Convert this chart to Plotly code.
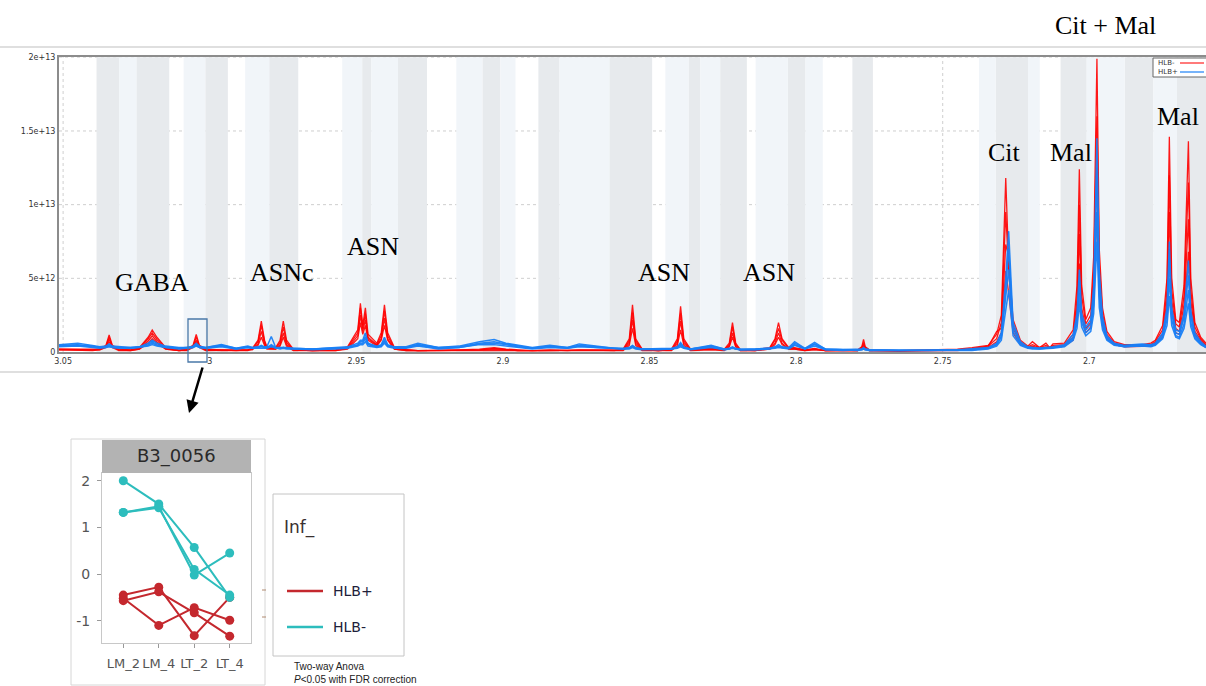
import plotly.graph_objects as go

W, H = 1206, 686
def px(x): return x / W
def py(y): return 1 - y / H

# ---------------- spectrum data (chemical shift, ppm) ----------------
ppm = [
    3.0514, 3.0450, 3.0400, 3.0375, 3.0354, 3.0343, 3.0332, 3.0310, 3.0270, 3.0240,
    3.0210, 3.0196, 3.0180, 3.0150, 3.0105, 3.0078, 3.0057, 3.0046, 3.0035, 3.0014,
    2.9960, 2.9910, 2.9870, 2.9855, 2.9835, 2.9824, 2.9813, 2.9805, 2.9790, 2.9775,
    2.9760, 2.9749, 2.9738, 2.9715, 2.9650, 2.9570, 2.9530, 2.9495, 2.9486, 2.9478,
    2.9469, 2.9460, 2.9430, 2.9415, 2.9404, 2.9393, 2.9370, 2.9330, 2.9290, 2.9220,
    2.9150, 2.9080, 2.9030, 2.8990, 2.8950, 2.8900, 2.8840, 2.8780, 2.8740, 2.8680,
    2.8620, 2.8590, 2.8569, 2.8558, 2.8547, 2.8525, 2.8470, 2.8425, 2.8405, 2.8394,
    2.8383, 2.8360, 2.8290, 2.8245, 2.8228, 2.8217, 2.8206, 2.8190, 2.8140, 2.8090,
    2.8072, 2.8060, 2.8048, 2.8025, 2.8005, 2.7970, 2.7937, 2.7900, 2.7840, 2.7790,
    2.7776, 2.7770, 2.7764, 2.7750, 2.7650, 2.7550, 2.7450, 2.7400, 2.7345, 2.7316,
    2.7300, 2.7285, 2.7275, 2.7260, 2.7235, 2.7210, 2.7194, 2.7170, 2.7148, 2.7135,
    2.7124, 2.7085, 2.7055, 2.7042, 2.7034, 2.7026, 2.7012, 2.6995, 2.6985, 2.6974,
    2.6966, 2.6955, 2.6940, 2.6915, 2.6880, 2.6820, 2.6790, 2.6775, 2.6750, 2.6735,
    2.6727, 2.6719, 2.6705, 2.6693, 2.6677, 2.6662, 2.6654, 2.6640, 2.6620, 2.6602,
]

# intensities in units of 1e12, HLB- (red) samples
hlb_minus_1 = [
    .2, .2, .15, .2, .45, 1.15, .45, .2, .15, .3,
    1.0, 1.5, 1.0, .3, .15, .2, .45, 1.2, .45, .2,
    .15, .1, .15, .25, .8, 2.1, .8, .35, .3, .3,
    .8, 2.1, .8, .2, .1, .15, .35, 1.5, 3.3, 1.8,
    3.0, 1.2, .6, 1.3, 3.2, 1.3, .3, .15, .1, .1,
    .15, .2, .3, .2, .15, .1, .15, .1, .15, .1,
    .1, .2, .9, 3.2, .9, .2, .1, .2, .9, 3.1,
    .9, .2, .25, .2, .6, 2.0, .6, .15, .15, .3,
    .9, 2.0, .9, .3, .3, .15, .25, .1, .1, .15,
    .35, .85, .35, .15, .1, .15, .2, .3, .45, 1.2,
    2.5, 11.8, 6.0, 2.2, .8, .4, .7, .3, .6, .3,
    .55, .6, 1.5, 4.5, 12.4, 4.5, 2.2, 3.0, 6.5, 19.9,
    7.0, 3.0, 1.4, .7, .5, .5, .6, .8, 1.8, 5.0,
    14.6, 5.0, 2.2, 2.0, 4.5, 14.3, 5.0, 2.0, 1.0, .6,
]
hlb_minus_2 = [
    .2, .15, .15, .2, .4, 1.0, .4, .15, .15, .25,
    .9, 1.3, .85, .25, .1, .15, .4, 1.0, .4, .15,
    .15, .1, .15, .2, .7, 1.8, .7, .3, .25, .25,
    .65, 1.7, .65, .15, .1, .15, .3, 1.3, 3.0, 1.6,
    2.6, 1.0, .5, 1.1, 2.8, 1.1, .25, .15, .1, .1,
    .15, .15, .25, .15, .1, .1, .1, .1, .15, .1,
    .1, .15, .75, 2.7, .75, .15, .1, .15, .75, 2.6,
    .75, .15, .2, .15, .5, 1.7, .5, .15, .1, .25,
    .8, 1.6, .8, .25, .25, .15, .2, .1, .1, .1,
    .3, .6, .3, .1, .1, .1, .15, .25, .4, .9,
    2.0, 9.5, 5.5, 1.8, .7, .35, .5, .3, .45, .3,
    .45, .5, 1.2, 3.6, 10.0, 3.8, 1.9, 2.5, 5.5, 16.0,
    6.0, 2.6, 1.2, .6, .45, .45, .5, .7, 1.5, 4.2,
    12.0, 4.2, 1.9, 1.7, 3.8, 11.5, 4.2, 1.7, .9, .5,
]
hlb_minus_3 = [
    .15, .15, .1, .15, .35, .85, .35, .15, .1, .2,
    .75, 1.1, .7, .2, .1, .15, .35, .8, .35, .15,
    .1, .1, .1, .2, .55, 1.4, .55, .25, .2, .2,
    .5, 1.3, .5, .15, .1, .1, .25, 1.1, 2.5, 1.4,
    2.2, .9, .45, .9, 2.3, .9, .2, .1, .1, .1,
    .1, .15, .2, .15, .1, .1, .1, .1, .1, .1,
    .1, .15, .6, 2.2, .6, .15, .1, .15, .6, 2.1,
    .6, .15, .2, .15, .4, 1.3, .4, .1, .1, .2,
    .6, 1.3, .6, .2, .2, .1, .2, .1, .1, .1,
    .25, .45, .25, .1, .1, .1, .1, .2, .35, 1.4,
    1.6, 7.3, 6.5, 1.6, .6, .3, .4, .25, .35, .25,
    .35, .45, 1.0, 3.0, 8.0, 3.0, 1.6, 2.0, 4.5, 12.5,
    5.0, 2.2, 1.0, .55, .4, .4, .45, .6, 1.2, 3.5,
    9.5, 3.5, 1.6, 1.4, 3.2, 9.0, 3.5, 1.4, .8, .45,
]
hlb_minus_4 = [
    .15, .1, .1, .15, .3, .7, .3, .1, .1, .2,
    .6, .9, .6, .2, .1, .1, .3, .7, .3, .1,
    .1, .1, .1, .15, .45, 1.0, .45, .2, .2, .2,
    .4, 1.0, .4, .1, .1, .1, .2, .9, 2.0, 1.2,
    1.8, .8, .4, .8, 1.8, .8, .2, .1, .1, .1,
    .1, .1, .15, .1, .1, .1, .1, .1, .1, .1,
    .1, .1, .45, 1.6, .45, .1, .1, .1, .45, 1.5,
    .45, .1, .15, .1, .35, 1.0, .35, .1, .1, .2,
    .5, 1.0, .5, .2, .2, .1, .15, .1, .1, .1,
    .2, .35, .2, .1, .05, .1, .1, .15, .3, .7,
    1.3, 5.5, 4.0, 1.3, .5, .3, .35, .25, .3, .25,
    .3, .4, .8, 2.4, 6.0, 2.4, 1.3, 1.7, 3.8, 9.5,
    4.0, 1.8, .9, .5, .35, .35, .4, .5, 1.0, 2.8,
    7.0, 2.8, 1.3, 1.2, 2.6, 6.8, 2.8, 1.2, .7, .4,
]
# HLB+ (blue) samples
hlb_plus_1 = [
    .5, .6, .45, .35, .4, .55, .4, .35, .3, .35,
    .6, .8, .6, .4, .3, .3, .4, .6, .4, .3,
    .5, .25, .4, .3, .35, .45, .35, .35, 1.05, .3,
    .3, .35, .3, .25, .2, .3, .35, .6, .8, .8,
    1.3, .6, .4, .5, 1.0, .5, .35, .35, .6, .3,
    .4, .7, .85, .6, .45, .3, .45, .3, .55, .4,
    .25, .25, .3, .45, .3, .2, .2, .25, .35, .65,
    .35, .2, .45, .2, .25, .35, .25, .2, .2, .25,
    .35, .5, .35, .3, .7, .25, .65, .2, .15, .15,
    .2, .3, .2, .15, .1, .1, .15, .2, .3, .6,
    1.3, 5.0, 8.2, 2.0, .7, .35, .3, .25, .3, .3,
    .35, .5, 1.2, 2.6, 5.6, 2.6, 1.7, 2.2, 4.5, 14.5,
    5.5, 2.4, 1.1, .6, .45, .55, .5, .6, 1.3, 3.0,
    7.5, 3.0, 1.5, 1.4, 2.6, 6.2, 2.8, 1.3, .7, .4,
]
hlb_plus_2 = [
    .45, .5, .4, .3, .35, .45, .35, .3, .3, .35,
    .5, .7, .5, .35, .25, .3, .35, .5, .35, .3,
    .45, .25, .35, .3, .3, .4, .3, .3, .5, .3,
    .25, .3, .25, .25, .2, .25, .3, .5, .7, .7,
    1.05, .55, .35, .45, .8, .45, .3, .3, .5, .3,
    .35, .6, .7, .55, .4, .25, .4, .3, .45, .35,
    .2, .2, .25, .4, .25, .2, .2, .2, .3, .55,
    .3, .2, .4, .2, .2, .3, .2, .15, .2, .25,
    .3, .4, .3, .25, .6, .25, .55, .2, .15, .15,
    .2, .25, .2, .15, .1, .1, .1, .15, .25, .5,
    1.1, 4.2, 7.0, 1.7, .6, .3, .25, .25, .25, .25,
    .3, .45, 1.0, 2.2, 4.8, 2.3, 1.5, 1.9, 3.8, 12.0,
    4.6, 2.1, 1.0, .55, .4, .5, .45, .55, 1.1, 2.6,
    6.3, 2.6, 1.3, 1.2, 2.3, 5.2, 2.4, 1.1, .6, .35,
]
hlb_plus_3 = [
    .4, .45, .35, .3, .3, .4, .3, .3, .25, .3,
    .45, .6, .45, .3, .25, .25, .3, .45, .3, .25,
    .4, .2, .3, .25, .3, .35, .3, .3, .4, .25,
    .25, .3, .25, .2, .2, .25, .3, .45, .6, .6,
    .9, .5, .35, .4, .7, .4, .3, .3, .45, .25,
    .3, .55, .6, .5, .35, .25, .35, .25, .4, .3,
    .2, .2, .25, .35, .25, .2, .15, .2, .3, .45,
    .3, .2, .35, .15, .2, .3, .2, .15, .15, .2,
    .3, .35, .3, .25, .5, .2, .5, .15, .15, .1,
    .15, .2, .15, .1, .1, .1, .1, .15, .25, .5,
    1.0, 3.5, 5.6, 1.4, .5, .3, .25, .2, .25, .25,
    .3, .4, .9, 1.9, 4.0, 2.0, 1.3, 1.6, 3.2, 9.5,
    3.8, 1.8, .9, .5, .35, .45, .4, .5, 1.0, 2.2,
    5.0, 2.2, 1.1, 1.0, 1.9, 4.2, 2.0, 1.0, .55, .3,
]
hlb_plus_4 = [
    .35, .4, .3, .25, .3, .35, .3, .25, .25, .3,
    .4, .5, .4, .3, .2, .25, .3, .4, .3, .25,
    .35, .2, .3, .25, .25, .3, .25, .25, .35, .25,
    .2, .25, .2, .2, .15, .2, .25, .4, .5, .5,
    .7, .4, .3, .35, .6, .35, .25, .25, .4, .2,
    .3, .5, .5, .4, .3, .2, .3, .25, .35, .3,
    .2, .2, .2, .3, .2, .15, .15, .2, .25, .35,
    .25, .15, .3, .15, .2, .25, .2, .15, .15, .2,
    .25, .3, .25, .2, .45, .2, .4, .15, .1, .1,
    .15, .2, .15, .1, .1, .05, .1, .1, .2, .4,
    .8, 2.8, 4.2, 1.1, .45, .25, .2, .2, .2, .2,
    .25, .35, .8, 1.6, 3.3, 1.7, 1.1, 1.4, 2.6, 7.5,
    3.0, 1.5, .8, .45, .35, .4, .35, .45, .9, 1.8,
    3.8, 1.8, 1.0, .9, 1.6, 3.3, 1.7, .9, .5, .3,
]

# binning regions (ppm start, ppm end)
bins_dark = [
    (3.0386, 3.0309), (3.0250, 3.0138), (3.0015, 2.9938), (2.9797, 2.9698),
    (2.9480, 2.9449), (2.9358, 2.9259), (2.9070, 2.9009), (2.8879, 2.8807),
    (2.8637, 2.8491), (2.8367, 2.8327), (2.8259, 2.8168), (2.8028, 2.7968),
    (2.7808, 2.7738), (2.7319, 2.7209), (2.7098, 2.7009), (2.6879, 2.6782),
    (2.6701, 2.6602),
]
bins_light = [
    (3.0309, 3.0250), (3.0089, 3.0015), (2.9879, 2.9797), (2.9548, 2.9480),
    (2.9449, 2.9358), (2.9159, 2.9070), (2.9009, 2.8957), (2.8807, 2.8637),
    (2.8446, 2.8367), (2.8327, 2.8259), (2.8138, 2.8028), (2.7968, 2.7909),
    (2.7376, 2.7319), (2.7209, 2.7169), (2.7009, 2.6879), (2.6782, 2.6701),
]

x_tick_vals = [3.05, 3.0, 2.95, 2.9, 2.85, 2.8, 2.75, 2.7]
x_tick_text = ["3.05", "3", "2.95", "2.9", "2.85", "2.8", "2.75", "2.7"]
y_tick_vals = [0, 5e12, 1e13, 1.5e13, 2e13]
y_tick_text = ["0", "5e+12", "1e+13", "1.5e+13", "2e+13"]

# ---------------- inset data (B3_0056) ----------------
inset_cats = ["LM_2", "LM_4", "LT_2", "LT_4"]
inset_hlb_plus = [
    [-0.45, -0.28, -1.32, -0.50],
    [-0.52, -1.10, -0.72, -0.99],
    [-0.57, -0.38, -0.83, -1.33],
]
inset_hlb_minus = [
    [2.00, 1.50, 0.57, -0.50],
    [1.32, 1.45, -0.02, 0.45],
    [1.32, 1.42, 0.10, -0.45],
]

for arr in [hlb_minus_1, hlb_minus_2, hlb_minus_3, hlb_minus_4,
            hlb_plus_1, hlb_plus_2, hlb_plus_3, hlb_plus_4]:
    assert len(arr) == len(ppm), len(arr)

RED = "rgba(255,0,0,0.9)"
BLUE = "rgba(25,128,245,0.95)"
INS_RED = "#c4282e"
INS_CYAN = "#2dbdbd"

fig = go.Figure()

for ys in [hlb_minus_1, hlb_minus_2, hlb_minus_3, hlb_minus_4]:
    fig.add_trace(go.Scatter(x=ppm, y=[v * 1e12 for v in ys], mode="lines",
                             line=dict(color=RED, width=1.3), showlegend=False,
                             hoverinfo="skip", xaxis="x", yaxis="y"))
for ys in [hlb_plus_1, hlb_plus_2, hlb_plus_3, hlb_plus_4]:
    fig.add_trace(go.Scatter(x=ppm, y=[v * 1e12 for v in ys], mode="lines",
                             line=dict(color=BLUE, width=1.5), showlegend=False,
                             hoverinfo="skip", xaxis="x", yaxis="y"))

cat_pos = list(range(len(inset_cats)))
for ys in inset_hlb_plus:
    fig.add_trace(go.Scatter(x=cat_pos, y=ys, mode="lines+markers",
                             line=dict(color=INS_RED, width=2),
                             marker=dict(color=INS_RED, size=9),
                             showlegend=False, xaxis="x2", yaxis="y2"))
for ys in inset_hlb_minus:
    fig.add_trace(go.Scatter(x=cat_pos, y=ys, mode="lines+markers",
                             line=dict(color=INS_CYAN, width=2),
                             marker=dict(color=INS_CYAN, size=9),
                             showlegend=False, xaxis="x2", yaxis="y2"))

shapes = []
GRID = dict(color="#cfcfcf", width=1, dash="dot")
# dotted grid (drawn first so that the bin bands cover it)
for v in x_tick_vals:
    shapes.append(dict(type="line", xref="x", yref="y domain", x0=v, x1=v, y0=0, y1=1,
                       line=GRID, layer="below"))
for v in y_tick_vals[1:]:
    shapes.append(dict(type="line", xref="x domain", yref="y", x0=0, x1=1, y0=v, y1=v,
                       line=GRID, layer="below"))
for a, b in bins_dark:
    shapes.append(dict(type="rect", xref="x", yref="y domain", x0=a, x1=b, y0=0, y1=1,
                       fillcolor="#e7eaed", line=dict(width=0), layer="below"))
for a, b in bins_light:
    shapes.append(dict(type="rect", xref="x", yref="y domain", x0=a, x1=b, y0=0, y1=1,
                       fillcolor="#f1f5f9", line=dict(width=0), layer="below"))

def pline(x0, y0, x1, y1, color, width):
    return dict(type="line", xref="paper", yref="paper", x0=px(x0), y0=py(y0),
                x1=px(x1), y1=py(y1), line=dict(color=color, width=width), layer="above")

def prect(x0, y0, x1, y1, color, width, fill=None):
    return dict(type="rect", xref="paper", yref="paper", x0=px(x0), y0=py(y0),
                x1=px(x1), y1=py(y1), line=dict(color=color, width=width),
                fillcolor=fill if fill else "rgba(0,0,0,0)", layer="above")

# frame lines of the screenshot
shapes.append(pline(0, 47, 1206, 47, "#d4d4d4", 1.5))
shapes.append(pline(0, 372, 1206, 372, "#d4d4d4", 1.5))
# highlighted peak box
shapes.append(prect(188, 319, 207, 362, "#4a78a8", 1.3))
# small legend in the spectrum
shapes.append(prect(1153, 58, 1212, 77, "#666666", 1, "white"))
shapes.append(pline(1180, 63, 1204, 63, "#ff2020", 1.2))
shapes.append(pline(1180, 72, 1204, 72, "#1a80f5", 1.2))
# inset panel
shapes.append(prect(71, 439, 265, 685, "#d6d6d6", 1))
shapes.append(prect(102, 440, 251, 473, "#b3b3b3", 0, "#b3b3b3"))
shapes.append(pline(262, 590, 266, 590, "#b08a70", 1))
shapes.append(pline(262, 617, 266, 617, "#b08a70", 1))
# inset legend
shapes.append(prect(273, 494, 404, 656, "#c4c4c4", 1))
shapes.append(pline(287, 591, 323, 591, INS_RED, 2.5))
shapes.append(pline(287, 627, 323, 627, INS_CYAN, 2.5))

SERIF = "Liberation Serif, Times New Roman, serif"
anns = []
def ptext(x, y, text, size, color="black", family=SERIF, xanchor="center"):
    anns.append(dict(xref="paper", yref="paper", x=px(x), y=py(y), text=text,
                     showarrow=False, xanchor=xanchor, yanchor="middle",
                     font=dict(size=size, color=color, family=family)))

ptext(152, 283, "GABA", 26)
ptext(282, 272, "ASNc", 26)
ptext(373, 247, "ASN", 26)
ptext(664, 272, "ASN", 26)
ptext(769, 272, "ASN", 26)
ptext(1004, 152, "Cit", 26)
ptext(1071, 152, "Mal", 26)
ptext(1178, 117, "Mal", 26)
ptext(1105, 25, "Cit + Mal", 26)

SANS = "DejaVu Sans, Verdana, sans-serif"
ptext(1156, 63, "HLB-", 7, "#333333", SANS, "left")
ptext(1156, 72, "HLB+", 7, "#333333", SANS, "left")
ptext(176.5, 456, "B3_0056", 18, "#2a2a2a", SANS)
ptext(282, 527, "Inf_", 17, "#3a3030", SANS, "left")
ptext(331, 591, "HLB+", 14, "#20203a", SANS, "left")
ptext(331, 627, "HLB-", 14, "#20203a", SANS, "left")
ptext(292, 666, "Two-way Anova", 10, "#222222", "Liberation Sans, Arial, sans-serif", "left")
ptext(292, 679, "<i>P</i><0.05 with FDR correction", 10, "#222222",
      "Liberation Sans, Arial, sans-serif", "left")

# arrow from highlighted peak to the inset
anns.append(dict(xref="paper", yref="paper", x=px(189), y=py(413), ax=14, ay=-47,
                 text="", showarrow=True,
                 arrowhead=2, arrowsize=1, arrowwidth=2.5, arrowcolor="black"))

fig.update_layout(
    width=W, height=H,
    margin=dict(l=0, r=0, t=0, b=0, autoexpand=False),
    paper_bgcolor="white", plot_bgcolor="white",
    shapes=shapes, annotations=anns,
    xaxis=dict(domain=[px(59), 1.0], range=[3.0514, 2.6602],
               tickvals=x_tick_vals, ticktext=x_tick_text,
               tickfont=dict(size=8, color="#333333", family=SANS),
               showgrid=False, automargin=False,
               showline=True, linecolor="#8c8c8c", linewidth=2, mirror=True,
               ticks="", zeroline=False, anchor="y"),
    yaxis=dict(domain=[py(352), py(57.3)], range=[0, 2e13],
               tickvals=y_tick_vals, ticktext=y_tick_text,
               tickfont=dict(size=8, color="#333333", family=SANS),
               showgrid=False, automargin=False,
               showline=True, linecolor="#8c8c8c", linewidth=2,
               ticks="", zeroline=False, anchor="x"),
    xaxis2=dict(domain=[px(102), px(251)], range=[-0.6, 3.6],
                tickvals=cat_pos, ticktext=inset_cats, tickangle=0,
                tickfont=dict(size=13, color="#555555", family=SANS),
                ticks="outside", ticklen=4, tickcolor="#999999", ticklabelstandoff=4,
                showline=True, linecolor="#c8c8c8", linewidth=1, mirror=True,
                showgrid=False, zeroline=False, anchor="y2", automargin=False),
    yaxis2=dict(domain=[py(643), py(473)], range=[-1.477, 2.165],
                tickvals=[-1, 0, 1, 2], ticktext=["-1", "0", "1", "2"],
                tickfont=dict(size=14, color="#555555", family=SANS),
                ticks="outside", ticklen=4, tickcolor="#999999", ticklabelstandoff=4,
                showline=True, linecolor="#c8c8c8", linewidth=1, mirror=True,
                showgrid=False, zeroline=False, anchor="x2", automargin=False),
)

fig.write_html("out.html",
               config={"displayModeBar": False},
               post_script="document.body.style.margin='0px';"
                           "document.body.style.overflow='hidden';")
